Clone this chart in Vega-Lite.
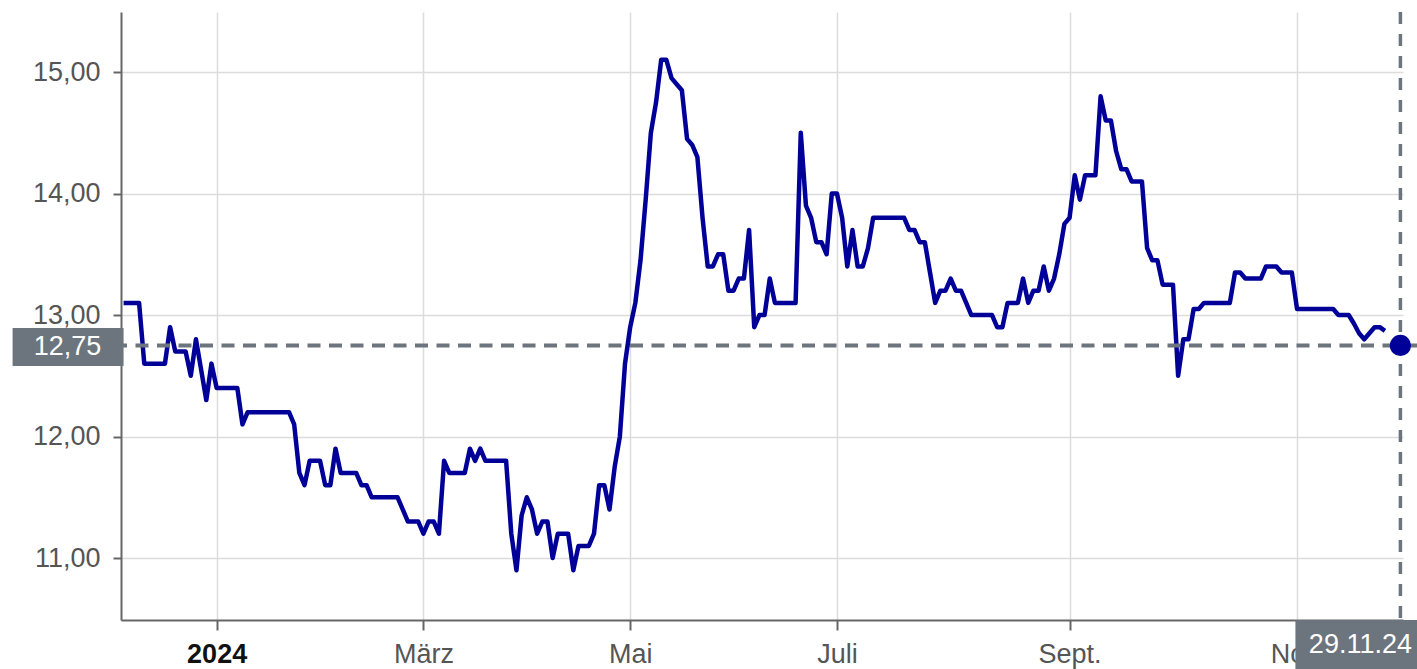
{
"$schema": "https://vega.github.io/schema/vega-lite/v6.json",
"width": 1296, "height": 608,
"autosize": {"type": "none"},
"padding": {"left": 121, "top": 12, "right": 0, "bottom": 49},
"background": "white",
"config": {"view": {"stroke": null}, "font": "Liberation Sans"},
"datasets": {
"kurs": [
{"d":"2023-12-04","v":13.1},{"d":"2023-12-05","v":13.1},{"d":"2023-12-06","v":13.1},{"d":"2023-12-07","v":13.1},{"d":"2023-12-08","v":12.6},
{"d":"2023-12-11","v":12.6},{"d":"2023-12-12","v":12.6},{"d":"2023-12-13","v":12.6},{"d":"2023-12-14","v":12.6},{"d":"2023-12-15","v":12.9},
{"d":"2023-12-18","v":12.7},{"d":"2023-12-19","v":12.7},{"d":"2023-12-20","v":12.7},{"d":"2023-12-21","v":12.5},{"d":"2023-12-22","v":12.8},
{"d":"2023-12-27","v":12.55},{"d":"2023-12-28","v":12.3},{"d":"2023-12-29","v":12.6},
{"d":"2024-01-02","v":12.4},{"d":"2024-01-03","v":12.4},{"d":"2024-01-04","v":12.4},{"d":"2024-01-05","v":12.4},{"d":"2024-01-08","v":12.4},
{"d":"2024-01-09","v":12.1},{"d":"2024-01-10","v":12.2},{"d":"2024-01-11","v":12.2},{"d":"2024-01-15","v":12.2},{"d":"2024-01-16","v":12.2},
{"d":"2024-01-17","v":12.2},{"d":"2024-01-18","v":12.2},{"d":"2024-01-19","v":12.2},{"d":"2024-01-22","v":12.2},{"d":"2024-01-23","v":12.2},
{"d":"2024-01-24","v":12.1},{"d":"2024-01-25","v":11.7},{"d":"2024-01-26","v":11.6},{"d":"2024-01-29","v":11.8},{"d":"2024-01-30","v":11.8},
{"d":"2024-01-31","v":11.8},{"d":"2024-02-01","v":11.6},{"d":"2024-02-05","v":11.6},{"d":"2024-02-06","v":11.9},{"d":"2024-02-07","v":11.7},
{"d":"2024-02-08","v":11.7},{"d":"2024-02-09","v":11.7},{"d":"2024-02-12","v":11.7},{"d":"2024-02-13","v":11.6},{"d":"2024-02-14","v":11.6},
{"d":"2024-02-15","v":11.5},{"d":"2024-02-19","v":11.5},{"d":"2024-02-20","v":11.5},{"d":"2024-02-21","v":11.5},{"d":"2024-02-22","v":11.5},
{"d":"2024-02-23","v":11.5},{"d":"2024-02-26","v":11.4},{"d":"2024-02-27","v":11.3},{"d":"2024-02-28","v":11.3},{"d":"2024-02-29","v":11.3},
{"d":"2024-03-01","v":11.2},{"d":"2024-03-04","v":11.3},{"d":"2024-03-05","v":11.3},{"d":"2024-03-06","v":11.2},{"d":"2024-03-07","v":11.8},
{"d":"2024-03-08","v":11.7},{"d":"2024-03-11","v":11.7},{"d":"2024-03-12","v":11.7},{"d":"2024-03-13","v":11.7},{"d":"2024-03-14","v":11.9},
{"d":"2024-03-15","v":11.8},{"d":"2024-03-18","v":11.9},{"d":"2024-03-19","v":11.8},{"d":"2024-03-20","v":11.8},{"d":"2024-03-21","v":11.8},
{"d":"2024-03-22","v":11.8},{"d":"2024-03-25","v":11.8},{"d":"2024-03-26","v":11.2},{"d":"2024-03-27","v":10.9},{"d":"2024-03-28","v":11.35},
{"d":"2024-04-02","v":11.5},{"d":"2024-04-03","v":11.4},{"d":"2024-04-04","v":11.2},{"d":"2024-04-05","v":11.3},{"d":"2024-04-08","v":11.3},
{"d":"2024-04-09","v":11.0},{"d":"2024-04-10","v":11.2},{"d":"2024-04-11","v":11.2},{"d":"2024-04-15","v":11.2},{"d":"2024-04-16","v":10.9},
{"d":"2024-04-17","v":11.1},{"d":"2024-04-18","v":11.1},{"d":"2024-04-19","v":11.1},{"d":"2024-04-22","v":11.2},{"d":"2024-04-23","v":11.6},
{"d":"2024-04-24","v":11.6},{"d":"2024-04-25","v":11.4},{"d":"2024-04-26","v":11.75},{"d":"2024-04-29","v":12.0},{"d":"2024-04-30","v":12.6},
{"d":"2024-05-02","v":12.9},{"d":"2024-05-03","v":13.1},{"d":"2024-05-06","v":13.45},{"d":"2024-05-07","v":13.95},{"d":"2024-05-08","v":14.5},
{"d":"2024-05-09","v":14.75},{"d":"2024-05-13","v":15.1},{"d":"2024-05-14","v":15.1},{"d":"2024-05-15","v":14.95},{"d":"2024-05-16","v":14.9},
{"d":"2024-05-17","v":14.85},{"d":"2024-05-20","v":14.45},{"d":"2024-05-21","v":14.4},{"d":"2024-05-22","v":14.3},{"d":"2024-05-23","v":13.8},
{"d":"2024-05-24","v":13.4},{"d":"2024-05-27","v":13.4},{"d":"2024-05-28","v":13.5},{"d":"2024-05-29","v":13.5},{"d":"2024-05-30","v":13.2},
{"d":"2024-06-03","v":13.2},{"d":"2024-06-04","v":13.3},{"d":"2024-06-05","v":13.3},{"d":"2024-06-06","v":13.7},{"d":"2024-06-07","v":12.9},
{"d":"2024-06-10","v":13.0},{"d":"2024-06-11","v":13.0},{"d":"2024-06-12","v":13.3},{"d":"2024-06-13","v":13.1},{"d":"2024-06-14","v":13.1},
{"d":"2024-06-17","v":13.1},{"d":"2024-06-18","v":13.1},{"d":"2024-06-19","v":13.1},{"d":"2024-06-20","v":14.5},{"d":"2024-06-21","v":13.9},
{"d":"2024-06-24","v":13.8},{"d":"2024-06-25","v":13.6},{"d":"2024-06-26","v":13.6},{"d":"2024-06-27","v":13.5},{"d":"2024-06-28","v":14.0},
{"d":"2024-07-01","v":14.0},{"d":"2024-07-02","v":13.8},{"d":"2024-07-03","v":13.4},{"d":"2024-07-04","v":13.7},{"d":"2024-07-05","v":13.4},
{"d":"2024-07-08","v":13.4},{"d":"2024-07-09","v":13.55},{"d":"2024-07-10","v":13.8},{"d":"2024-07-11","v":13.8},{"d":"2024-07-12","v":13.8},
{"d":"2024-07-15","v":13.8},{"d":"2024-07-16","v":13.8},{"d":"2024-07-17","v":13.8},{"d":"2024-07-18","v":13.8},{"d":"2024-07-19","v":13.7},
{"d":"2024-07-22","v":13.7},{"d":"2024-07-23","v":13.6},{"d":"2024-07-24","v":13.6},{"d":"2024-07-25","v":13.35},{"d":"2024-07-26","v":13.1},
{"d":"2024-07-29","v":13.2},{"d":"2024-07-30","v":13.2},{"d":"2024-07-31","v":13.3},{"d":"2024-08-01","v":13.2},{"d":"2024-08-02","v":13.2},
{"d":"2024-08-05","v":13.1},{"d":"2024-08-06","v":13.0},{"d":"2024-08-07","v":13.0},{"d":"2024-08-08","v":13.0},{"d":"2024-08-09","v":13.0},
{"d":"2024-08-12","v":13.0},{"d":"2024-08-13","v":12.9},{"d":"2024-08-14","v":12.9},{"d":"2024-08-15","v":13.1},{"d":"2024-08-16","v":13.1},
{"d":"2024-08-19","v":13.1},{"d":"2024-08-20","v":13.3},{"d":"2024-08-21","v":13.1},{"d":"2024-08-22","v":13.2},{"d":"2024-08-23","v":13.2},
{"d":"2024-08-26","v":13.4},{"d":"2024-08-27","v":13.2},{"d":"2024-08-28","v":13.3},{"d":"2024-08-29","v":13.5},{"d":"2024-08-30","v":13.75},
{"d":"2024-09-02","v":13.8},{"d":"2024-09-03","v":14.15},{"d":"2024-09-04","v":13.95},{"d":"2024-09-05","v":14.15},{"d":"2024-09-06","v":14.15},
{"d":"2024-09-09","v":14.15},{"d":"2024-09-10","v":14.8},{"d":"2024-09-11","v":14.6},{"d":"2024-09-12","v":14.6},{"d":"2024-09-13","v":14.35},
{"d":"2024-09-16","v":14.2},{"d":"2024-09-17","v":14.2},{"d":"2024-09-18","v":14.1},{"d":"2024-09-19","v":14.1},{"d":"2024-09-20","v":14.1},
{"d":"2024-09-23","v":13.55},{"d":"2024-09-24","v":13.45},{"d":"2024-09-25","v":13.45},{"d":"2024-09-26","v":13.25},{"d":"2024-09-27","v":13.25},
{"d":"2024-09-30","v":13.25},{"d":"2024-10-01","v":12.5},{"d":"2024-10-02","v":12.8},{"d":"2024-10-03","v":12.8},{"d":"2024-10-04","v":13.05},
{"d":"2024-10-07","v":13.05},{"d":"2024-10-08","v":13.1},{"d":"2024-10-09","v":13.1},{"d":"2024-10-10","v":13.1},{"d":"2024-10-11","v":13.1},
{"d":"2024-10-14","v":13.1},{"d":"2024-10-15","v":13.1},{"d":"2024-10-16","v":13.35},{"d":"2024-10-17","v":13.35},{"d":"2024-10-18","v":13.3},
{"d":"2024-10-21","v":13.3},{"d":"2024-10-22","v":13.3},{"d":"2024-10-23","v":13.3},{"d":"2024-10-24","v":13.4},{"d":"2024-10-25","v":13.4},
{"d":"2024-10-28","v":13.4},{"d":"2024-10-29","v":13.35},{"d":"2024-10-30","v":13.35},{"d":"2024-10-31","v":13.35},
{"d":"2024-11-01","v":13.05},{"d":"2024-11-04","v":13.05},{"d":"2024-11-05","v":13.05},{"d":"2024-11-06","v":13.05},{"d":"2024-11-07","v":13.05},
{"d":"2024-11-08","v":13.05},{"d":"2024-11-11","v":13.05},{"d":"2024-11-12","v":13.05},{"d":"2024-11-13","v":13.0},{"d":"2024-11-14","v":13.0},
{"d":"2024-11-15","v":13.0},{"d":"2024-11-18","v":12.93},{"d":"2024-11-19","v":12.85},{"d":"2024-11-20","v":12.8},{"d":"2024-11-21","v":12.85},
{"d":"2024-11-22","v":12.9},{"d":"2024-11-25","v":12.9},{"d":"2024-11-26","v":12.87},{"d":"2024-11-27","v":null},{"d":"2024-11-28","v":null},
{"d":"2024-11-29","v":null}
],
"letzter": [{"d":"2024-11-29","v":12.75,"kurs":"12,75","datum":"29.11.24","start":"2023-12-04","unten":10.49}]
},
"layer": [
{"data": {"name": "kurs"},
 "mark": {"type": "line", "color": "#000099", "strokeWidth": 4.5, "strokeJoin": "round", "invalid": "break-paths-show-domains"},
 "encoding": {
  "x": {"field": "d", "type": "ordinal", "scale": {"type": "point", "range": [0, 1282]},
   "axis": {"values": ["2024-01-02","2024-03-01","2024-05-02","2024-07-01","2024-09-02","2024-11-01"],
    "labelExpr": "datum.value == '2024-01-02' ? '2024' : datum.value == '2024-03-01' ? 'März' : datum.value == '2024-05-02' ? 'Mai' : datum.value == '2024-07-01' ? 'Juli' : datum.value == '2024-09-02' ? 'Sept.' : 'Nov.'",
    "title": null, "grid": true, "gridColor": "#dcdcdc", "gridWidth": 1.5,
    "domainColor": "#666666", "domainWidth": 2, "tickColor": "#666666", "tickWidth": 2, "tickSize": 10,
    "labelFontSize": 27, "labelPadding": 11, "labelAngle": 0, "labelOverlap": false,
    "labelColor": {"condition": {"test": "datum.value == '2024-01-02'", "value": "#111111"}, "value": "#555555"},
    "labelFontWeight": {"condition": {"test": "datum.value == '2024-01-02'", "value": "bold"}, "value": "normal"}}},
  "y": {"field": "v", "type": "quantitative", "scale": {"domain": [10.49, 15.494], "nice": false, "zero": false},
   "axis": {"values": [11, 12, 13, 14, 15], "labelExpr": "replace(format(datum.value, '.2f'), '.', ',')",
    "title": null, "grid": true, "gridColor": "#dcdcdc", "gridWidth": 1.5,
    "domainColor": "#666666", "domainWidth": 2, "tickColor": "#666666", "tickWidth": 2, "tickSize": 8,
    "labelFontSize": 27, "labelColor": "#555555", "labelPadding": 13}}
 }},
{"data": {"name": "letzter"},
 "mark": {"type": "rule", "color": "#6c757d", "strokeWidth": 4, "strokeDash": [13, 8.5]},
 "encoding": {"y": {"field": "v", "type": "quantitative"}}},
{"data": {"name": "letzter"},
 "mark": {"type": "rule", "color": "#6c757d", "strokeWidth": 3.5, "strokeDash": [12, 10]},
 "encoding": {"x": {"field": "d", "type": "ordinal"}}},
{"data": {"name": "letzter"},
 "mark": {"type": "point", "filled": true, "color": "#000099", "opacity": 1, "size": 450, "strokeWidth": 0},
 "encoding": {"x": {"field": "d", "type": "ordinal"}, "y": {"field": "v", "type": "quantitative"}}},
{"data": {"name": "letzter"},
 "mark": {"type": "point", "shape": "M-1,-0.342H1V0.342H-1Z", "filled": true, "color": "#6c757d", "opacity": 1, "size": 12321, "strokeWidth": 0, "xOffset": -55.5, "yOffset": 1.5},
 "encoding": {"x": {"field": "start", "type": "ordinal"}, "y": {"field": "v", "type": "quantitative"}}},
{"data": {"name": "letzter"},
 "mark": {"type": "text", "color": "white", "fontSize": 27, "align": "center", "baseline": "middle", "xOffset": -56, "yOffset": 1.5},
 "encoding": {"x": {"field": "start", "type": "ordinal"}, "y": {"field": "v", "type": "quantitative"}, "text": {"field": "kurs"}}},
{"data": {"name": "letzter"},
 "mark": {"type": "point", "shape": "M-1,-0.377H1V0.377H-1Z", "filled": true, "color": "#6c757d", "opacity": 1, "size": 16900, "strokeWidth": 0, "xOffset": -40, "yOffset": 24.5},
 "encoding": {"x": {"field": "d", "type": "ordinal"}, "y": {"field": "unten", "type": "quantitative"}}},
{"data": {"name": "letzter"},
 "mark": {"type": "text", "color": "white", "fontSize": 27, "align": "center", "baseline": "middle", "xOffset": -40, "yOffset": 25},
 "encoding": {"x": {"field": "d", "type": "ordinal"}, "y": {"field": "unten", "type": "quantitative"}, "text": {"field": "datum"}}}
]
}
